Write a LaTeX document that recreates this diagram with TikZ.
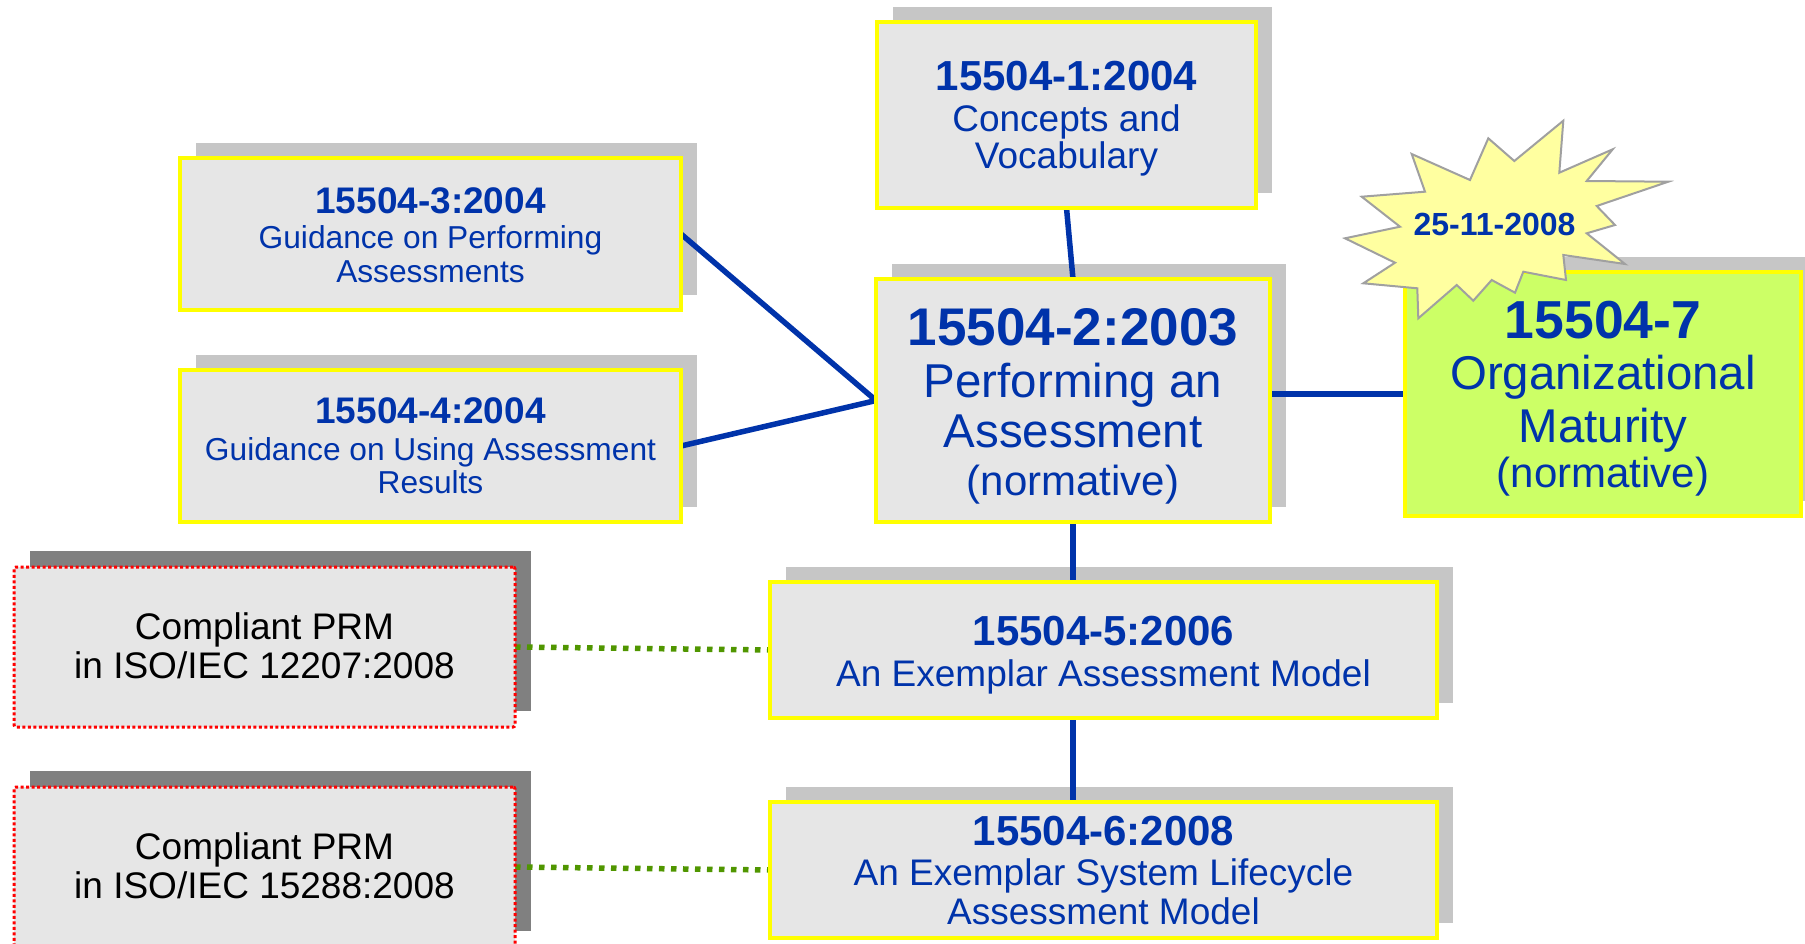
\documentclass[tikz,border=0pt]{standalone}
\usepackage{fontspec}
\setmainfont{Liberation Sans}
\usepackage{graphicx}
\pgfdeclarelayer{shade}
\pgfdeclarelayer{wires}
\pgfsetlayers{shade,wires,main}

\definecolor{ink}{RGB}{0,51,170}
\definecolor{paper}{RGB}{230,230,230}
\definecolor{shadowgray}{RGB}{198,198,198}
\definecolor{darkshadow}{RGB}{128,128,128}
\definecolor{edgeyellow}{RGB}{255,255,0}
\definecolor{maturitygreen}{RGB}{204,255,102}
\definecolor{burstfill}{RGB}{255,255,160}
\definecolor{burstedge}{RGB}{160,160,160}
\definecolor{dotgreen}{RGB}{80,150,0}
\definecolor{prmred}{RGB}{255,0,0}

\begin{document}
\begin{tikzpicture}[x=1pt,y=-1pt,
  box/.style={draw=edgeyellow, line width=3.5pt, fill=paper, inner sep=0pt, outer sep=0pt},
  prm/.style={draw=prmred, line width=3pt, dash pattern=on 3pt off 2.5pt,
              fill=paper, rounded corners=2pt, inner sep=0pt, outer sep=0pt},
  hd/.style={anchor=base, inner sep=0pt, text=ink, font=\bfseries\fontsize{#1}{#1}\selectfont},
  tx/.style={anchor=base, inner sep=0pt, text=ink, font=\fontsize{#1}{#1}\selectfont},
  bk/.style={anchor=base, inner sep=0pt, text=black, font=\fontsize{#1}{#1}\selectfont},
  link/.style={draw=ink, line width=5.5pt},
  prmlink/.style={draw=dotgreen, line width=5.5pt, dash pattern=on 5.5pt off 6.5pt},
  burst/.style={fill=burstfill, draw=burstedge, line width=2pt, line join=miter},
]
\useasboundingbox (0,0) rectangle (1805,943);
\clip (0,0) rectangle (1805,943);

% ---- standard parts ----
\node[box, minimum width=379, minimum height=186] (b1) at (1066.5,115) {};
\node[box, minimum width=394, minimum height=243] (b2) at (1073,400.5) {};
\node[box, minimum width=501, minimum height=152] (b3) at (430.5,234) {};
\node[box, minimum width=501, minimum height=152] (b4) at (430.5,446) {};
\node[box, minimum width=667, minimum height=136] (b5) at (1103.5,650) {};
\node[box, minimum width=667, minimum height=136] (b6) at (1103.5,870) {};
\node[box, fill=maturitygreen, minimum width=396, minimum height=244] (b7) at (1603,394) {};

% ---- process reference models ----
\node[prm, minimum width=501, minimum height=160] (c1) at (264.5,647) {};
\node[prm, minimum width=501, minimum height=160] (c2) at (264.5,867) {};

% ---- shadows ----
\begin{pgfonlayer}{shade}
  \foreach \n in {b1,b2,b3,b4,b5,b6,b7}
    \fill[shadowgray] ([shift={(15.5,-15)}]\n.south west) rectangle ([shift={(15.5,-15)}]\n.north east);
  \foreach \n in {c1,c2}
    \fill[darkshadow] ([shift={(16,-16)}]\n.south west) rectangle ([shift={(16,-16)}]\n.north east);
\end{pgfonlayer}

% ---- connectors ----
\begin{pgfonlayer}{wires}
  \draw[link] (b1.south) -- (b2.north);
  \draw[link] (b3.east) -- (b2.west);
  \draw[link] (b4.east) -- (b2.west);
  \draw[link] (b7.west -| b2.east) -- (b7.west);
  \draw[link] (b2.south) -- (b2.south |- b5.north);
  \draw[link] (b2.south |- b5.south) -- (b2.south |- b6.north);
  \draw[prmlink] (c1.east) -- (b5.west);
  \draw[prmlink] (c2.east) -- (b6.west);
\end{pgfonlayer}

% ---- texts ----
\node[hd=42] (b1h) at (1066.5,90) {15504-1:2004};
\node[tx=37] (b1a) at (1066.5,131) {Concepts and};
\node[tx=37] (b1b) at (1066.5,168) {Vocabulary};

\node[hd=53] (b2h) at (1073,345) {15504-2:2003};
\node[tx=47.5] (b2a) at (1073,397) {Performing an};
\node[tx=47.5] (b2b) at (1073,447) {Assessment};
\node[tx=42] (b2c) at (1073,495) {(normative)};

\node[hd=37] (b3h) at (430.5,213) {15504-3:2004};
\node[tx=31.7] (b3a) at (430.5,248) {Guidance on Performing};
\node[tx=31.7] (b3b) at (430.5,282) {Assessments};

\node[hd=37] (b4h) at (430.5,423) {15504-4:2004};
\node[tx=31.7] (b4a) at (430.5,460) {Guidance on Using Assessment};
\node[tx=31.7] (b4b) at (430.5,493) {Results};

\node[hd=42] (b5h) at (1103.5,645) {15504-5:2006};
\node[tx=37] (b5a) at (1103.5,686) {An Exemplar Assessment Model};

\node[hd=42] (b6h) at (1103.5,845) {15504-6:2008};
\node[tx=37] (b6a) at (1103.5,885) {An Exemplar System Lifecycle};
\node[tx=37] (b6b) at (1103.5,924) {Assessment Model};

\node[hd=53.5] (b7h) at (1603,338) {15504-7};
\node[tx=47.4] (b7a) at (1603,389) {Organizational};
\node[tx=47.4] (b7b) at (1603,442) {Maturity};
\node[tx=42] (b7c) at (1603,487) {(normative)};

\node[bk=37] (c1a) at (264.5,639) {Compliant PRM};
\node[bk=37] (c1b) at (264.5,678) {in ISO/IEC 12207:2008};
\node[bk=37] (c2a) at (264.5,859) {Compliant PRM};
\node[bk=37] (c2b) at (264.5,898) {in ISO/IEC 15288:2008};

% ---- publication date burst ----
\draw[burst] (1563.3,120.7) -- (1559.3,172.7) -- (1612.7,149.3) -- (1586.7,181)
  -- (1668.3,181.7) -- (1596.7,206) -- (1615,225) -- (1586.7,233.3)
  -- (1625,264) -- (1563.3,255) -- (1566,280) -- (1523.3,271.7)
  -- (1515,292.7) -- (1491.7,280) -- (1473.3,300.7) -- (1456.7,285)
  -- (1418.3,318.3) -- (1417.3,288.3) -- (1363.3,283.3) -- (1395,262.7)
  -- (1345,238.3) -- (1400,226.7) -- (1361.7,196.7) -- (1425,191.7)
  -- (1411.7,154) -- (1470,180) -- (1488.3,138.3) -- (1514.3,161) -- cycle;
\node[hd=32] (date) at (1494.5,235) {25-11-2008};
\end{tikzpicture}
\end{document}
